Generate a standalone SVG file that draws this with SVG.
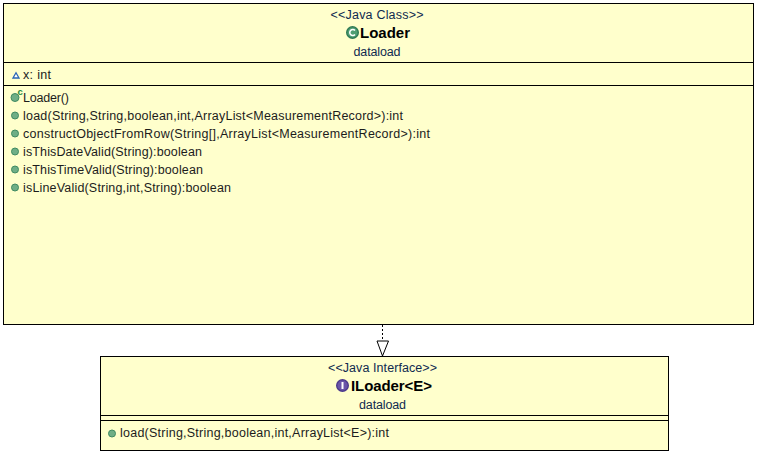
<svg xmlns="http://www.w3.org/2000/svg" width="757" height="454" viewBox="0 0 757 454">
<style>
text{font-family:"Liberation Sans",Arial,sans-serif;font-size:12.5px;fill:#000}
.s{fill:#0f2a50}
.c{text-anchor:middle}
.t{font-weight:bold;font-size:15px}
.m{fill:#1c1c1c}
.box{fill:#ffffcc;stroke:#000;stroke-width:1}
.d{stroke:#000;stroke-width:1;fill:none}
.pub{fill:#6fae86;stroke:#3f8a62;stroke-width:1}
</style>
<rect width="757" height="454" fill="#fff"/>
<g id="connectors">
<line x1="382.5" y1="325" x2="382.5" y2="341" stroke="#000" stroke-dasharray="2 2"/>
<path d="M377 341H388.5L382.5 356Z" fill="#fff" stroke="#000"/>
</g>
<g id="Loader">
<rect class="box" x="3.5" y="3.5" width="750" height="321"/>
<path class="d" d="M3.5 62.5H753.5M3.5 85.5H753.5"/>
<text class="c s" x="377" y="19" textLength="93">&lt;&lt;Java Class&gt;&gt;</text>
<circle cx="352.5" cy="32.5" r="5.8" fill="#4f9e72" stroke="#2f7a55" stroke-width="1.4"/>
<path d="M355 30.5a3 3 0 1 0 0 4" fill="none" stroke="#fff" stroke-width="1.5"/>
<text class="t" x="360" y="38" textLength="50">Loader</text>
<text class="c s" x="377" y="56" textLength="47">dataload</text>
<path d="M13 78L16 72.8L19 78Z" fill="#fff" stroke="#2a66b5" stroke-width="1.3"/>
<text class="m" x="23" y="79" textLength="28">x: int</text>
<circle class="pub" cx="15" cy="97.5" r="4"/>
<text x="17.5" y="95" style="font-size:9.5px;font-weight:bold;fill:#1d8a3c">c</text>
<text class="m" x="23" y="102" textLength="46">Loader()</text>
<circle class="pub" cx="15" cy="115.5" r="3.5"/>
<text class="m" x="23" y="120" textLength="380">load(String,String,boolean,int,ArrayList&lt;MeasurementRecord&gt;):int</text>
<circle class="pub" cx="15" cy="133.5" r="3.5"/>
<text class="m" x="23" y="138" textLength="407">constructObjectFromRow(String[],ArrayList&lt;MeasurementRecord&gt;):int</text>
<circle class="pub" cx="15" cy="151.5" r="3.5"/>
<text class="m" x="23" y="156" textLength="179">isThisDateValid(String):boolean</text>
<circle class="pub" cx="15" cy="169.5" r="3.5"/>
<text class="m" x="23" y="174" textLength="180">isThisTimeValid(String):boolean</text>
<circle class="pub" cx="15" cy="187.5" r="3.5"/>
<text class="m" x="23" y="192" textLength="208">isLineValid(String,int,String):boolean</text>
</g>
<g id="ILoader">
<rect class="box" x="100.5" y="356.5" width="568" height="94"/>
<path class="d" d="M100.5 415.5H668.5M100.5 420.5H668.5"/>
<text class="c s" x="382.5" y="372" textLength="109">&lt;&lt;Java Interface&gt;&gt;</text>
<circle cx="342.5" cy="385.5" r="5.8" fill="#6a55a8" stroke="#4c3a8c" stroke-width="1.4"/>
<rect x="341.5" y="382" width="2" height="7" fill="#fff"/>
<text class="t" x="351" y="391" textLength="81">ILoader&lt;E&gt;</text>
<text class="c s" x="382.5" y="409" textLength="47">dataload</text>
<circle class="pub" cx="112" cy="433.5" r="3.5"/>
<text class="m" x="120" y="437" textLength="269">load(String,String,boolean,int,ArrayList&lt;E&gt;):int</text>
</g>
</svg>
